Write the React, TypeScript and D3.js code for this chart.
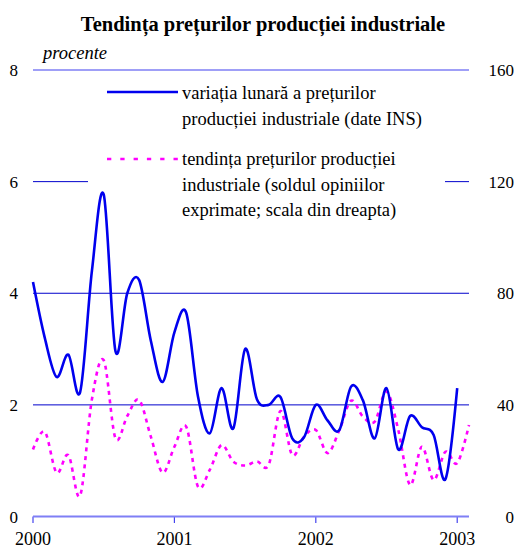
import React, { useEffect } from 'react';
import * as d3 from 'd3';

// monthly change of industrial producer prices, % (Jan 2000 - Jan 2003)
const variatia = [
  4.2, 3.2, 2.5, 2.9, 2.23, 4.4, 5.77, 2.96, 4.0, 4.24, 3.15, 2.41,
  3.3, 3.65, 2.15, 1.49, 2.3, 1.58, 3.0, 2.1, 2.0, 2.14, 1.4, 1.42,
  2.0, 1.72, 1.55, 2.33, 2.08, 1.4, 2.3, 1.2, 1.8, 1.6, 1.46, 0.67,
  2.3,
];

// balance of opinions, right scale (Jan 2000 - Feb 2003)
const tendinta = [
  24, 30.4, 15.7, 22, 7.5, 42, 56, 28, 36, 41.8, 28.6, 15.7,
  25, 32.2, 10.7, 16.7, 25.6, 19.7, 18.3, 19.7, 18.5, 37.8, 22, 28.6,
  31, 22.7, 31, 41.5, 35.8, 34, 44.8, 31, 11.3, 25, 13.1, 23.2,
  19.1, 32.8,
];

const years = ['2000', '2001', '2002', '2003'];
const leftTicks = [0, 2, 4, 6, 8];
const rightTicks = [0, 40, 80, 120, 160];

const legend1 = ['variația lunară a prețurilor', 'producției industriale (date INS)'];
const legend2 = ['tendința prețurilor producției', 'industriale (soldul opiniilor', 'exprimate; scala din dreapta)'];

const W = 517;
const H = 549;
const font = 'Liberation Serif, Times New Roman, Times, serif';

const App: React.FC = () => {
  useEffect(() => {
    document.body.style.margin = '0';
  }, []);

  const x = d3.scaleLinear().domain([0, 37]).range([33, 469]);
  const yL = d3.scaleLinear().domain([0, 8]).range([516.5, 70]);
  const yR = d3.scaleLinear().domain([0, 160]).range([516.5, 70]);

  const lineL = d3.line<number>()
    .x((_, i) => x(i))
    .y(d => yL(d))
    .curve(d3.curveCatmullRom.alpha(0));
  const lineR = d3.line<number>()
    .x((_, i) => x(i))
    .y(d => yR(d))
    .curve(d3.curveCatmullRom.alpha(0));

  return (
    <svg width={W} height={H} style={{ display: 'block', background: '#fff', fontFamily: font }}>
      <text x={263} y={31} textAnchor="middle" fontSize={20.5} fontWeight="bold">
        Tendința prețurilor producției industriale
      </text>
      <text x={43} y={59} fontSize={18.5} fontStyle="italic">procente</text>

      {/* gridlines */}
      {leftTicks.slice(1).map(t => (
        <line key={t} x1={x(0)} x2={x(37)} y1={yL(t)} y2={yL(t)}
          stroke={t === 8 ? '#7f7ff5' : '#0000cc'} strokeWidth={t === 8 ? 1.6 : 1} />
      ))}

      {/* axis ticks */}
      {leftTicks.map(t => (
        <text key={t} x={18} y={yL(t) + 6} textAnchor="end" fontSize={17}>{t}</text>
      ))}
      {rightTicks.map(t => (
        <text key={t} x={514} y={yR(t) + 6} textAnchor="end" fontSize={17}>{t}</text>
      ))}
      {years.map((y, i) => (
        <g key={y}>
          <line x1={x(i * 12)} x2={x(i * 12)} y1={516.5} y2={523} stroke="#4444ee" strokeWidth={1.2} />
          <text x={x(i * 12)} y={545} textAnchor="middle" fontSize={18}>{y}</text>
        </g>
      ))}

      {/* legend */}
      <rect x={88} y={78} width={357} height={146} fill="#fff" />
      <line x1={107} x2={178} y1={92} y2={92} stroke="#0000ee" strokeWidth={2.6} />
      {legend1.map((s, i) => (
        <text key={s} x={182} y={99 + i * 25.5} fontSize={18.5}>{s}</text>
      ))}
      <line x1={107} x2={178} y1={159} y2={159} stroke="#ff00ff" strokeWidth={2.6} strokeDasharray="4.3,9" />
      {legend2.map((s, i) => (
        <text key={s} x={182} y={165 + i * 25.5} fontSize={18.5}>{s}</text>
      ))}

      {/* series */}
      <path d={lineR(tendinta) || ''} fill="none" stroke="#ff00ff" strokeWidth={2.6} strokeDasharray="4,4.5" />
      <path d={lineL(variatia) || ''} fill="none" stroke="#0000ee" strokeWidth={2.6} />

      <line x1={x(0)} x2={x(37)} y1={516.5} y2={516.5} stroke="#7f7ff5" strokeWidth={1.8} />
    </svg>
  );
};

export default App;
